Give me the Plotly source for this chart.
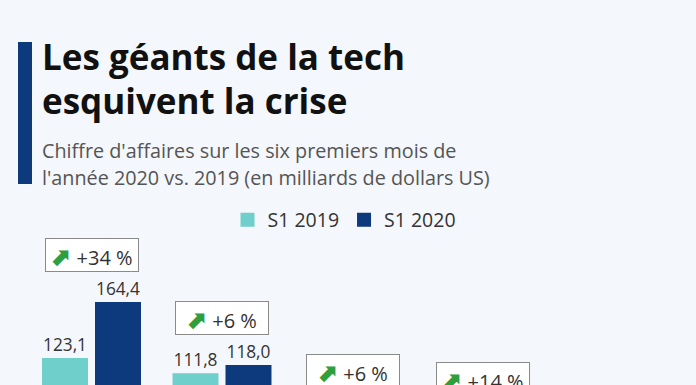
import plotly.graph_objects as go

companies = ["Amazon", "Apple", "Alphabet", "Microsoft", "Facebook"]
s1_2019 = [123.1, 111.8, 75.2, 64.3, 32.0]
s1_2020 = [164.4, 118.0, 79.5, 73.0, 36.4]
growth_labels = ["+34 %", "+6 %", "+6 %", "+14 %", "+14 %"]

BG = "#f4f7fb"
TEAL = "#6fcfcb"
NAVY = "#0c3a7d"
FONT = "Open Sans"

def fr(v):
    return f"{v:.1f}".replace(".", ",")

fig = go.Figure()
fig.add_trace(go.Bar(
    name="S1 2019", x=companies, y=s1_2019,
    marker=dict(color=TEAL, line=dict(color=TEAL, width=2)),
    text=[fr(v) for v in s1_2019], textposition="outside",
    textfont=dict(family=FONT, size=18, color="#333333"),
))
fig.add_trace(go.Bar(
    name="S1 2020", x=companies, y=s1_2020,
    marker=dict(color=NAVY, line=dict(color=NAVY, width=2)),
    text=[fr(v) for v in s1_2020], textposition="outside",
    textfont=dict(family=FONT, size=18, color="#333333"),
))

annotations = []
for c, a, b, g in zip(companies, s1_2019, s1_2020, growth_labels):
    top = max(a, b)
    annotations.append(dict(
        x=c, y=top, xref="x", yref="y",
        ax=c, ay=top + 35, axref="x", ayref="y",
        showarrow=True, arrowcolor="rgba(0,0,0,0)", arrowwidth=0.1,
        text="<span style='color:#2e9e3e;font-size:24px'><b>⬈</b></span> " + g,
        font=dict(family=FONT, size=20, color="#333333"),
        bordercolor="#8a8a8a", borderwidth=1, bgcolor="#ffffff",
        width=88, height=28, borderpad=2,
    ))

# title / subtitle
title_lines = ["Les géants de la tech", "esquivent la crise"]
sub_lines = ["Chiffre d'affaires sur les six premiers mois de",
             "l'année 2020 vs. 2019 (en milliards de dollars US)"]
for i, t in enumerate(title_lines):
    annotations.append(dict(
        xref="paper", yref="paper", x=40 / 696, y=1 - (56 + 45 * i) / 385,
        xanchor="left", yanchor="middle", showarrow=False,
        text="<b>" + t + "</b>",
        font=dict(family=FONT, size=35, color="#111111"),
    ))
for i, t in enumerate(sub_lines):
    annotations.append(dict(
        xref="paper", yref="paper", x=40 / 696, y=1 - (150 + 27 * i) / 385,
        xanchor="left", yanchor="middle", showarrow=False,
        text=t,
        font=dict(family=FONT, size=19.8, color="#555555"),
    ))

fig.update_layout(
    width=696, height=385,
    margin=dict(l=0, r=0, t=0, b=0),
    paper_bgcolor=BG, plot_bgcolor=BG,
    barmode="group", bargap=0.188, bargroupgap=0.17,
    showlegend=True,
    legend=dict(orientation="h", x=0.495, xanchor="center", y=1 - 220 / 385,
                yanchor="middle", itemwidth=30,
                font=dict(family=FONT, size=19.5, color="#333333"),
                bgcolor="rgba(0,0,0,0)"),
    xaxis=dict(domain=[26.25 / 696, 678.75 / 696], visible=False, fixedrange=True),
    yaxis=dict(range=[103.9, 387.8], visible=False, fixedrange=True),
    annotations=annotations,
    shapes=[dict(type="rect", xref="paper", yref="paper",
                 x0=18 / 696, x1=32 / 696, y0=1 - 184 / 385, y1=1 - 42 / 385,
                 fillcolor=NAVY, line=dict(width=0))],
    font=dict(family=FONT),
)

fig.write_html("out.html", config={"displayModeBar": False},
               post_script="document.body.style.margin='0';document.body.style.overflow='hidden';")
